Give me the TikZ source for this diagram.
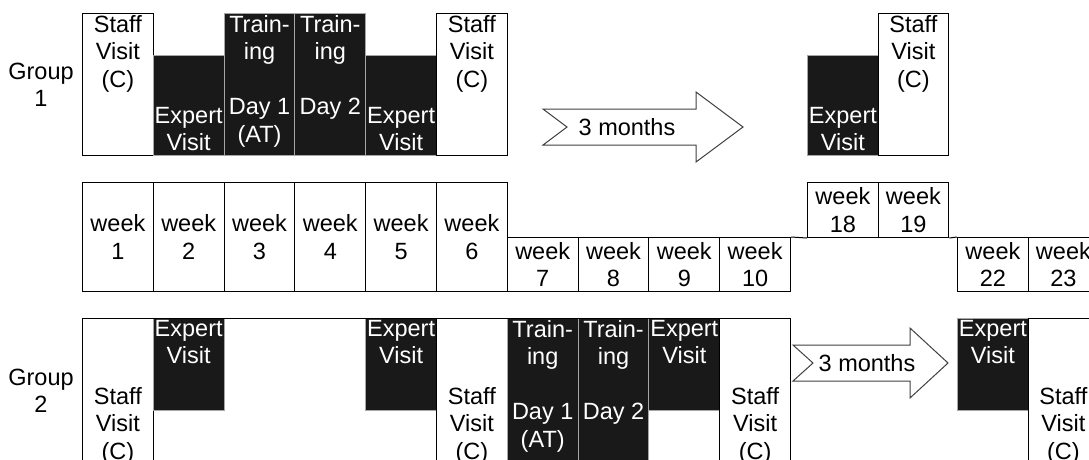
\documentclass[tikz,border=0pt]{standalone}
\usepackage{fontspec}
\setmainfont{Liberation Sans}
\usetikzlibrary{positioning}

% notched arrow: name, tail x, notch x, head x, tip x, mid y
\newcommand{\montharrow}[6]{%
  \draw[arrowline] (#2,#6-18) coordinate (#1) -- (#4,#6-18) -- (#4,#6-35) -- (#5,#6)
    -- (#4,#6+35) -- (#4,#6+18) -- (#2,#6+18) -- (#3,#6) -- cycle;}

\begin{document}
\begin{tikzpicture}[x=1pt, y=-1pt,
    font=\fontsize{23.5}{27.5}\selectfont,
    txt/.style={align=center, inner sep=2pt},
    wtxt/.style={txt, text=white},
    staffbox/.style={draw=black, line width=1pt, fill=white, minimum width=70.8pt, anchor=north west, inner sep=0pt},
    expertbox/.style={draw=black!35, line width=1pt, fill=black!90, minimum width=70.8pt, anchor=north west, inner sep=0pt},
    framebox/.style={draw=black, line width=1pt, anchor=north west, inner sep=0pt},
    weekbox/.style={draw=black, line width=1pt, minimum width=70.8pt, anchor=north west, align=center, inner sep=0pt},
    arrowline/.style={draw=black!75, line width=1pt, fill=white, line join=miter}]
    \clip (0,0) rectangle (1089,459);

    % Group 1
    \node[txt] (grp1) at (41,85) {Group\\1};
    \node[staffbox, minimum height=142pt] (a1) at (82,13) {};
    \node[expertbox, minimum height=100pt] (a2) at (152.8,55) {};
    \node[expertbox, minimum height=142pt] (a3) at (223.6,13) {};
    \node[expertbox, minimum height=142pt] (a4) at (294.4,13) {};
    \node[expertbox, minimum height=100pt] (a5) at (365.2,55) {};
    \node[staffbox, minimum height=142pt] (a6) at (436,13) {};
    \node[expertbox, minimum height=100pt] (a7) at (807,55) {};
    \node[staffbox, minimum height=142pt] (a8) at (877.5,13) {};

    \node[txt, below] (a1t) at (a1.north) {Staff\\Visit\\(C)};
    \node[wtxt, above] (a2t) at ([yshift=3pt]a2.south) {Expert\\Visit};
    \node[wtxt, below] (a3t) at (a3.north) {Train-\\ing\\~\\Day 1\\(AT)};
    \node[wtxt, below] (a4t) at (a4.north) {Train-\\ing\\~\\Day 2};
    \node[wtxt, above] (a5t) at ([yshift=3pt]a5.south) {Expert\\Visit};
    \node[txt, below] (a6t) at (a6.north) {Staff\\Visit\\(C)};
    \node[wtxt, above] (a7t) at ([yshift=3pt]a7.south) {Expert\\Visit};
    \node[txt, below] (a8t) at (a8.north) {Staff\\Visit\\(C)};

    \montharrow{arr1}{543}{567}{696}{743}{127}
    \node (m1) at (627,127) {3 months};

    % weeks
    \foreach \n in {1,...,6}
        \node[weekbox, minimum height=109pt] (w\n) at ({82+70.8*(\n-1)},182) {week\\\n};
    \foreach \n [count=\i from 0] in {7,...,10}
        \node[weekbox, minimum height=54pt] (w\n) at ({506.8+70.8*\i},237) {week\\\n};
    \foreach \n [count=\i from 0] in {18,19}
        \node[weekbox, minimum height=55pt] (w\n) at ({807+70.5*\i},182) {week\\\n};
    \foreach \n [count=\i from 0] in {22,23}
        \node[weekbox, minimum height=54pt] (w\n) at ({957+70.5*\i},237) {week\\\n};
    \draw[line width=1pt] (w10.north east) -- (w18.south west);
    \draw[line width=1pt] (w19.south east) -- (w22.north west);

    % Group 2
    \node[txt] (grp2) at (41,391) {Group\\2};
    \node[staffbox, minimum height=145pt] (b1) at (82,318) {};
    \node[expertbox, minimum height=92pt] (b2) at (152.8,318) {};
    \node[expertbox, minimum height=92pt] (b5) at (365.2,318) {};
    \node[staffbox, minimum height=145pt] (b6) at (436,318) {};
    \node[expertbox, minimum height=145pt] (b7) at (506.8,318) {};
    \node[expertbox, minimum height=145pt] (b8) at (577.6,318) {};
    \node[expertbox, minimum height=92pt] (b9) at (648.4,318) {};
    \node[staffbox, minimum height=145pt] (b10) at (719.2,318) {};
    \node[framebox, minimum width=708pt, minimum height=145pt] (frame2) at (82,318) {};
    \node[expertbox, minimum height=92pt] (b11) at (957,318) {};
    \node[staffbox, minimum height=145pt] (b12) at (1027.5,318) {};

    \node[txt, below] (b1t) at ([yshift=-67pt]b1.north) {Staff\\Visit\\(C)};
    \node[wtxt, below] (b2t) at (b2.north) {Expert\\Visit};
    \node[wtxt, below] (b5t) at (b5.north) {Expert\\Visit};
    \node[txt, below] (b6t) at ([yshift=-67pt]b6.north) {Staff\\Visit\\(C)};
    \node[wtxt, below] (b7t) at (b7.north) {Train-\\ing\\~\\Day 1\\(AT)};
    \node[wtxt, below] (b8t) at (b8.north) {Train-\\ing\\~\\Day 2};
    \node[wtxt, below] (b9t) at (b9.north) {Expert\\Visit};
    \node[txt, below] (b10t) at ([yshift=-67pt]b10.north) {Staff\\Visit\\(C)};
    \node[wtxt, below] (b11t) at (b11.north) {Expert\\Visit};
    \node[txt, below] (b12t) at ([yshift=-67pt]b12.north) {Staff\\Visit\\(C)};

    \montharrow{arr2}{793}{813}{910}{948}{363}
    \node (m2) at (867,363) {3 months};
\end{tikzpicture}
\end{document}
